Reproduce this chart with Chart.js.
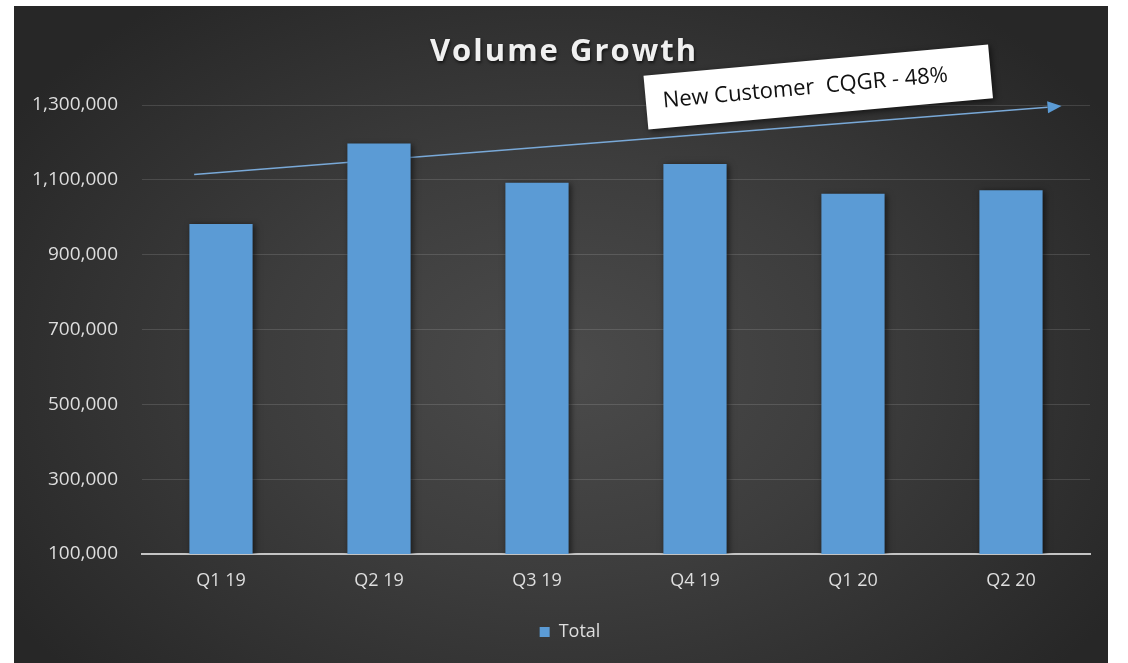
<!DOCTYPE html>
<html lang="en">
<head>
    <meta charset="UTF-8">
    <title>Volume Growth</title>
    <script src="https://cdn.jsdelivr.net/npm/chart.js"></script>
    <style>
        html, body {
            margin: 0;
            padding: 0;
            background-color: #ffffff;
            width: 1128px;
            height: 663px;
            overflow: hidden;
        }

        .panel {
            position: absolute;
            left: 14px;
            top: 6px;
            width: 1094px;
            height: 657px;
            background: radial-gradient(ellipse 60% 70% at 50% 55%, #4b4b4b 0%, #3d3d3d 45%, #272727 100%);
        }
    </style>
</head>
<body>
    <div class="panel">
        <canvas id="volumeChart"></canvas>
    </div>

    <script>
        // quarterly volumes
        const quarters = ['Q1 19', 'Q2 19', 'Q3 19', 'Q4 19', 'Q1 20', 'Q2 20'];
        const totals = [982000, 1197000, 1092000, 1142000, 1063000, 1072000];

        // y axis range
        const yMin = 100000;
        const yMax = 1300000;
        const yStep = 200000;

        // trend arrow, [category index, value] at each end
        const trendStart = [-0.17, 1114000];
        const trendEnd = [5.32, 1297000];

        // callout box centre, [category index, value]
        const calloutAt = [3.78, 1348000];
        const calloutText = 'New Customer  CQGR - 48%';

        const chartTitle = 'Volume Growth';

        const barBlue = '#5b9bd5';
        const labelGrey = '#dedede';

        // draws the title, the trend arrow and the callout
        const annotations = {
            id: 'annotations',
            afterLayout(chart) {
                // legend sits a little right of centre
                chart.legend.left += 18;
                chart.legend.right += 18;
            },
            beforeDatasetsDraw(chart) {
                const { ctx, scales: { x, y } } = chart;
                const x1 = x.getPixelForValue(trendStart[0]);
                const y1 = y.getPixelForValue(trendStart[1]);
                const x2 = x.getPixelForValue(trendEnd[0]);
                const y2 = y.getPixelForValue(trendEnd[1]);
                const ang = Math.atan2(y2 - y1, x2 - x1);
                const head = 14;

                ctx.save();
                ctx.strokeStyle = '#79a9d8';
                ctx.lineWidth = 1.5;
                ctx.beginPath();
                ctx.moveTo(x1, y1);
                ctx.lineTo(x2 - head * Math.cos(ang), y2 - head * Math.sin(ang));
                ctx.stroke();

                ctx.fillStyle = barBlue;
                ctx.translate(x2, y2);
                ctx.rotate(ang);
                ctx.beginPath();
                ctx.moveTo(0, 0);
                ctx.lineTo(-head, -6);
                ctx.lineTo(-head, 6);
                ctx.closePath();
                ctx.fill();
                ctx.restore();

                // bar shadow
                ctx.save();
                ctx.shadowColor = 'rgba(0, 0, 0, 0.55)';
                ctx.shadowBlur = 6;
                ctx.shadowOffsetX = 2;
                ctx.shadowOffsetY = 1;
            },
            afterDatasetsDraw(chart) {
                const { ctx, scales: { x, y } } = chart;
                ctx.restore();

                // callout
                const cx = x.getPixelForValue(calloutAt[0]);
                const cy = y.getPixelForValue(calloutAt[1]);
                ctx.save();
                ctx.translate(cx, cy);
                ctx.rotate(-5.2 * Math.PI / 180);
                ctx.shadowColor = 'rgba(0, 0, 0, 0.6)';
                ctx.shadowBlur = 6;
                ctx.shadowOffsetX = 2;
                ctx.shadowOffsetY = 2;
                ctx.fillStyle = '#ffffff';
                ctx.fillRect(-173, -27, 346, 54);
                ctx.shadowColor = 'transparent';
                ctx.fillStyle = '#111111';
                ctx.font = '22px "Open Sans"';
                ctx.textAlign = 'center';
                ctx.textBaseline = 'middle';
                ctx.fillText(calloutText, -13, 0);
                ctx.restore();
            },
            afterDraw(chart) {
                const { ctx, width } = chart;
                ctx.save();
                ctx.font = 'bold 31px "Open Sans"';
                ctx.letterSpacing = '2px';
                ctx.fillStyle = '#f0f0f0';
                ctx.textAlign = 'center';
                ctx.textBaseline = 'middle';
                ctx.shadowColor = 'rgba(0, 0, 0, 0.6)';
                ctx.shadowBlur = 3;
                ctx.shadowOffsetX = 1;
                ctx.shadowOffsetY = 2;
                ctx.fillText(chartTitle, width / 2 + 3, 46);
                ctx.restore();
            }
        };

        const ctx = document.getElementById('volumeChart').getContext('2d');

        new Chart(ctx, {
            type: 'bar',
            data: {
                labels: quarters,
                datasets: [{
                    label: 'Total',
                    data: totals,
                    backgroundColor: barBlue,
                    borderWidth: 0,
                    categoryPercentage: 1.0,
                    barPercentage: 0.4
                }]
            },
            options: {
                responsive: true,
                maintainAspectRatio: false,
                animation: false,
                layout: {
                    padding: { top: 99, right: 18, bottom: 12, left: 0 }
                },
                scales: {
                    x: {
                        grid: { display: false, drawTicks: false },
                        border: { display: true, color: '#c4c4c4', width: 2 },
                        ticks: {
                            color: labelGrey,
                            font: { family: 'Open Sans', size: 18 },
                            padding: 16
                        },
                        afterFit(scale) {
                            scale.height = 60;
                        }
                    },
                    y: {
                        min: yMin,
                        max: yMax,
                        grid: { color: 'rgba(255, 255, 255, 0.13)', lineWidth: 1, drawTicks: false },
                        border: { display: false },
                        ticks: {
                            stepSize: yStep,
                            color: labelGrey,
                            font: { family: 'Open Sans', size: 19 },
                            padding: 24,
                            callback: v => v.toLocaleString('en-US')
                        },
                        afterFit(scale) {
                            scale.width = 128;
                        }
                    }
                },
                plugins: {
                    title: { display: false },
                    tooltip: { enabled: false },
                    legend: {
                        position: 'bottom',
                        labels: {
                            color: labelGrey,
                            font: { family: 'Open Sans', size: 18 },
                            boxWidth: 10,
                            boxHeight: 10,
                            padding: 9
                        }
                    }
                }
            },
            plugins: [annotations]
        });
    </script>
</body>
</html>
